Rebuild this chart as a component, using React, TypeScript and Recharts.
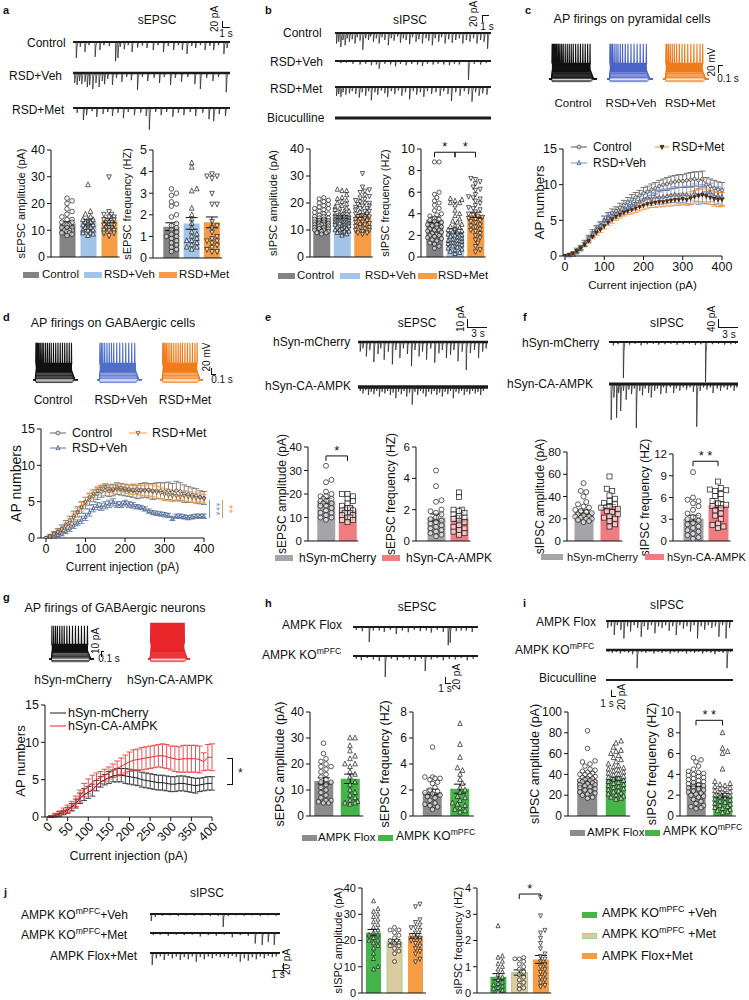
import React from "react";
import { Area, Bar, Cell, ComposedChart, ErrorBar, Line, LineChart, ReferenceLine, Scatter, XAxis, YAxis } from "recharts";

const FONT = '"Liberation Sans", Arial, Helvetica, sans-serif';
const INK = "#111";

// ---------- shared categories ----------
const rsdGroups = ["Control", "RSD+Veh", "RSD+Met"];
const synGroups = ["hSyn-mCherry", "hSyn-CA-AMPK"];
const koGroups = ["AMPK Flox", "AMPK KO"];
const jGroups = ["KO+Veh", "KO+Met", "Flox+Met"];

// ---------- panel a: sEPSC ----------
const aAmpMean = [12.4, 13.2, 13.7];
const aAmpSem = [0.8, 0.9, 0.8];
const aAmpCtrl = [22, 21, 20, 18, 17, 16, 15, 14, 14, 13, 13, 12, 12, 12, 11, 11, 11, 10, 10, 10, 9.5, 9, 9, 8.5, 8];
const aAmpVeh = [27, 17, 16, 15, 14, 14, 14, 13, 13, 13, 12, 12, 12, 11, 11, 11, 10, 10, 10, 9, 9, 8.5, 8];
const aAmpMet = [30, 17, 16, 16, 15, 15, 14, 14, 13, 13, 13, 12, 12, 12, 12, 11, 11, 11, 10, 10, 10, 9, 9, 8];
const aFreqMean = [1.45, 1.6, 1.65];
const aFreqSem = [0.18, 0.27, 0.25];
const aFreqCtrl = [3.2, 3.0, 2.9, 2.6, 2.5, 2.4, 2.0, 1.9, 1.6, 1.5, 1.4, 1.3, 1.2, 1.1, 1.0, 1.0, 0.9, 0.8, 0.7, 0.6, 0.5, 0.4, 0.3];
const aFreqVeh = [4.4, 4.2, 3.2, 3.1, 2.3, 2.0, 1.8, 1.6, 1.4, 1.2, 1.1, 1.0, 0.9, 0.8, 0.8, 0.7, 0.6, 0.5, 0.5, 0.4];
const aFreqMet = [3.9, 3.8, 3.8, 3.7, 3.0, 2.5, 2.5, 1.7, 1.5, 1.4, 1.2, 1.0, 0.9, 0.8, 0.8, 0.7, 0.6, 0.5, 0.4, 0.3, 0.3];

// ---------- panel b: sIPSC ----------
const bAmpMean = [13.8, 14.8, 15.3];
const bAmpSem = [0.4, 0.5, 0.5];
const bAmpCtrl = [22, 21.5, 21, 20.5, 20, 19.5, 19, 18.5, 18, 18, 17.5, 17, 16.5, 16, 16, 15.5, 15, 15, 14.5, 14.5, 14, 14, 13.5, 13.5, 13, 13, 12.5, 12.5, 12, 12, 12, 11.5, 11.5, 11, 11, 10.5, 10.5, 10, 10, 9.5, 9.5, 9, 9, 8.5];
const bAmpVeh = [25, 24.5, 24.5, 23, 22, 21.5, 21, 20.5, 20, 19.5, 19, 18.5, 18, 18, 17.5, 17, 17, 16.5, 16, 16, 15.5, 15.5, 15, 15, 14.5, 14.5, 14, 14, 13.5, 13.5, 13, 13, 12.5, 12.5, 12, 12, 11.5, 11.5, 11, 11, 10.5, 10.5, 10, 10, 9.5, 9.5, 9, 9, 8.5, 8];
const bAmpMet = [31, 26, 25, 24.5, 24, 23, 22.5, 22, 21.5, 21, 20.5, 20, 20, 19.5, 19, 19, 18.5, 18, 18, 17.5, 17, 17, 16.5, 16, 16, 15.5, 15, 15, 14.5, 14, 14, 13.5, 13, 13, 12.5, 12, 12, 11.5, 11, 11, 10.5, 10, 10, 9.5, 9, 9, 8.5];
const bFreqMean = [3.45, 2.4, 3.9];
const bFreqSem = [0.25, 0.2, 0.25];
const bFreqCtrl = [8.8, 8.8, 6.0, 5.8, 5.5, 5.2, 5.0, 4.8, 4.5, 4.3, 4.0, 3.9, 3.8, 3.6, 3.5, 3.4, 3.3, 3.2, 3.0, 3.0, 2.9, 2.8, 2.7, 2.6, 2.5, 2.5, 2.4, 2.3, 2.2, 2.1, 2.0, 2.0, 1.9, 1.8, 1.7, 1.6, 1.5, 1.3, 1.2, 1.0, 0.8];
const bFreqVeh = [5.4, 5.3, 5.2, 5.0, 5.0, 4.8, 4.3, 4.0, 3.8, 3.5, 3.3, 3.2, 3.0, 2.9, 2.8, 2.7, 2.6, 2.5, 2.4, 2.3, 2.2, 2.1, 2.0, 2.0, 1.9, 1.8, 1.7, 1.6, 1.5, 1.5, 1.4, 1.3, 1.2, 1.2, 1.1, 1.0, 0.9, 0.8, 0.7, 0.6, 0.5, 0.4, 0.3];
const bFreqMet = [7.3, 7.2, 7.0, 6.8, 6.5, 6.3, 6.2, 5.8, 5.6, 5.5, 5.4, 5.2, 5.0, 4.8, 4.6, 4.5, 4.4, 4.2, 4.0, 3.9, 3.8, 3.7, 3.6, 3.5, 3.4, 3.3, 3.2, 3.0, 2.9, 2.8, 2.6, 2.5, 2.4, 2.2, 2.0, 1.8, 1.6, 1.3, 1.0, 0.7, 0.5];

// ---------- panel e / f ----------
const eAmpMean = [17, 13.5];
const eAmpSem = [1.2, 0.9];
const eAmpCh = [32, 26, 25, 21, 20, 19, 19, 18, 18, 17, 17, 16, 16, 15, 15, 14, 13, 12, 12, 11, 10, 10, 9];
const eAmpCa = [20, 20, 19, 18, 17, 16, 15, 14, 14, 13, 13, 12, 12, 12, 11, 11, 10, 10, 9, 9, 8];
const eFreqMean = [1.5, 1.45];
const eFreqSem = [0.22, 0.18];
const eFreqCh = [4.5, 3.5, 2.6, 2.5, 2.0, 1.9, 1.8, 1.7, 1.5, 1.4, 1.3, 1.2, 1.1, 1.0, 0.9, 0.8, 0.7, 0.6, 0.5, 0.4, 0.3];
const eFreqCa = [3.1, 2.8, 2.0, 2.0, 1.9, 1.8, 1.7, 1.6, 1.5, 1.4, 1.3, 1.2, 1.0, 0.9, 0.8, 0.7, 0.6, 0.5, 0.4];
const fAmpMean = [26, 30.5];
const fAmpSem = [1.8, 2.3];
const fAmpCh = [52, 45, 44, 40, 35, 33, 31, 30, 28, 27, 26, 25, 24, 23, 22, 22, 21, 20, 20, 19, 18, 17];
const fAmpCa = [58, 47, 45, 41, 38, 36, 34, 33, 31, 30, 29, 27, 26, 24, 22, 21, 20, 18, 15, 13];
const fFreqMean = [3.1, 5.0];
const fFreqSem = [0.45, 0.4];
const fFreqCh = [9.5, 6.0, 5.7, 5.5, 5.2, 4.8, 4.3, 3.8, 3.5, 3.3, 3.0, 2.8, 2.5, 2.3, 2.0, 1.8, 1.5, 1.3, 1.0, 0.8, 0.5, 0.3];
const fFreqCa = [8.2, 7.3, 7.1, 7.0, 6.9, 6.5, 6.2, 5.8, 5.5, 5.2, 5.0, 4.8, 4.5, 4.2, 3.8, 3.5, 3.0, 2.4, 2.2, 2.0, 1.8];

// ---------- panel h / i ----------
const hAmpMean = [13.5, 14.3];
const hAmpSem = [1.2, 1.8];
const hAmpFlox = [28, 24, 22, 21, 20, 19, 19, 18, 17, 16, 15, 14, 13, 13, 12, 11, 10, 9, 8, 7, 6, 6, 5.5, 5, 5];
const hAmpKo = [30, 30, 27, 25, 23, 22, 20, 20, 19, 17, 16, 15, 13, 12, 10, 9, 8, 7, 6, 5.5, 5, 5, 4.5];
const hFreqMean = [1.85, 2.1];
const hFreqSem = [0.22, 0.35];
const hFreqFlox = [5.3, 3.0, 3.0, 2.9, 2.9, 2.8, 2.6, 2.5, 2.2, 2.0, 1.9, 1.8, 1.7, 1.6, 1.5, 1.4, 1.2, 1.0, 0.9, 0.8, 0.7, 0.5];
const hFreqKo = [7.1, 5.5, 4.5, 3.7, 3.5, 3.2, 2.8, 2.5, 2.2, 2.0, 1.8, 1.5, 1.4, 1.2, 1.0, 0.9, 0.8, 0.6, 0.5, 0.4, 0.3];
const iAmpMean = [35, 36];
const iAmpSem = [1.5, 1.6];
const iAmpFlox = [82, 65, 53, 52, 50, 48, 45, 44, 43, 42, 41, 40, 40, 39, 38, 37, 36, 36, 35, 34, 34, 33, 33, 32, 31, 30, 30, 29, 28, 27, 26, 25, 24, 23, 22, 21, 20, 18, 17];
const iAmpKo = [72, 70, 66, 63, 62, 60, 58, 56, 54, 52, 50, 48, 47, 46, 45, 44, 43, 42, 41, 40, 39, 38, 37, 36, 35, 34, 33, 32, 31, 30, 29, 28, 27, 26, 25, 24, 23, 22, 21, 20, 19, 18, 17, 16];
const iFreqMean = [3.0, 1.95];
const iFreqSem = [0.15, 0.2];
const iFreqFlox = [5.6, 5.4, 5.2, 4.8, 4.5, 4.3, 4.2, 4.1, 4.0, 3.9, 3.8, 3.7, 3.6, 3.5, 3.4, 3.3, 3.2, 3.1, 3.0, 2.9, 2.8, 2.7, 2.6, 2.5, 2.4, 2.3, 2.2, 2.1, 2.0, 1.9, 1.8, 1.6, 1.4, 1.2, 1.0, 0.9, 0.8, 0.7];
const iFreqKo = [8.0, 6.5, 6.2, 6.0, 4.5, 3.3, 3.1, 3.0, 2.9, 2.8, 2.7, 2.6, 2.5, 2.4, 2.3, 2.2, 2.1, 2.0, 1.9, 1.8, 1.7, 1.6, 1.5, 1.4, 1.3, 1.2, 1.1, 1.0, 0.9, 0.8, 0.7, 0.6, 0.5, 0.4, 0.3];

// ---------- panel j ----------
const jAmpMean = [23, 19.5, 21.8];
const jAmpSem = [1.2, 0.8, 0.9];
const jAmpKoVeh = [35, 32, 31, 30, 29, 28, 27, 26, 25, 24, 23, 22, 22, 21, 20, 20, 19, 18, 17, 15, 13, 10, 9];
const jAmpKoMet = [25, 24, 24, 23, 22, 21, 20, 20, 19, 19, 18, 18, 17, 16, 15, 12];
const jAmpFloxMet = [34, 33, 28, 27, 26, 25, 25, 24, 23, 22, 22, 21, 21, 20, 20, 19, 18, 17, 16, 15, 13, 12];
const jFreqMean = [0.62, 0.78, 1.28];
const jFreqSem = [0.12, 0.1, 0.15];
const jFreqKoVeh = [2.55, 1.4, 1.35, 1.2, 1.1, 1.0, 0.9, 0.8, 0.7, 0.6, 0.5, 0.4, 0.35, 0.3, 0.25, 0.2, 0.15, 0.1, 0.05];
const jFreqKoMet = [1.35, 1.3, 1.3, 1.2, 1.1, 1.0, 0.9, 0.8, 0.7, 0.6, 0.5, 0.4, 0.3, 0.2, 0.15];
const jFreqFloxMet = [3.65, 2.95, 2.4, 2.3, 2.1, 1.9, 1.7, 1.5, 1.4, 1.3, 1.2, 1.1, 1.0, 0.9, 0.8, 0.7, 0.6, 0.5, 0.4, 0.3, 0.25];

// ---------- AP numbers vs current (c, d, g) ----------
const currentSteps = [0, 10, 20, 30, 40, 50, 60, 70, 80, 90, 100, 110, 120, 130, 140, 150, 160, 170, 180, 190, 200, 210, 220, 230, 240, 250, 260, 270, 280, 290, 300, 310, 320, 330, 340, 350, 360, 370, 380, 390, 400];
const cCtrl = [0, 0, 0.2, 0.8, 1.2, 1.8, 2.5, 3.2, 3.8, 4.3, 5.0, 5.5, 6.0, 6.3, 6.8, 7.1, 7.5, 7.9, 8.2, 8.5, 8.8, 9.0, 9.3, 9.5, 9.8, 10.0, 10.1, 10.3, 10.4, 10.5, 10.5, 10.6, 10.7, 10.8, 10.6, 10.8, 10.0, 9.8, 9.5, 9.3, 9.2];
const cCtrlE = [0, 0.1, 0.2, 0.3, 0.3, 0.4, 0.4, 0.5, 0.5, 0.5, 0.6, 0.6, 0.6, 0.6, 0.6, 0.7, 0.7, 0.7, 0.7, 0.7, 0.8, 0.8, 0.8, 0.8, 0.8, 0.8, 0.9, 0.9, 0.9, 0.9, 0.9, 1.0, 1.0, 1.0, 1.2, 1.1, 1.0, 1.0, 1.1, 1.1, 1.1];
const cVeh = [0, 0, 0.2, 0.5, 1.0, 1.6, 2.3, 3.0, 3.6, 4.2, 5.0, 5.3, 5.6, 5.9, 6.2, 6.5, 6.8, 7.1, 7.3, 7.6, 7.9, 8.2, 8.0, 8.3, 8.2, 8.3, 8.4, 8.5, 8.6, 8.5, 8.6, 8.6, 8.4, 8.9, 8.5, 8.7, 8.6, 8.9, 8.4, 8.5, 8.3];
const cVehE = [0, 0.1, 0.2, 0.2, 0.3, 0.3, 0.4, 0.4, 0.5, 0.5, 0.6, 0.6, 0.6, 0.6, 0.6, 0.7, 0.7, 0.7, 0.8, 0.8, 0.8, 0.9, 0.9, 0.9, 1.0, 1.0, 1.0, 1.0, 1.1, 1.1, 1.1, 1.2, 1.2, 1.2, 1.3, 1.3, 1.3, 1.3, 1.2, 1.2, 1.2];
const cMet = [0, 0.2, 0.4, 0.7, 1.1, 1.6, 2.1, 2.7, 3.3, 3.7, 4.2, 4.7, 5.1, 5.5, 5.8, 6.1, 6.3, 6.5, 6.7, 6.9, 7.1, 7.3, 7.4, 7.5, 7.6, 7.6, 7.7, 7.8, 7.9, 7.9, 8.0, 7.9, 8.1, 8.3, 8.5, 8.6, 8.4, 8.2, 8.0, 7.9, 7.9];
const cMetE = [0, 0.1, 0.2, 0.2, 0.2, 0.3, 0.3, 0.3, 0.4, 0.4, 0.4, 0.4, 0.5, 0.5, 0.5, 0.5, 0.5, 0.6, 0.6, 0.6, 0.6, 0.6, 0.6, 0.7, 0.7, 0.7, 0.7, 0.8, 0.8, 0.8, 0.8, 0.8, 0.9, 0.9, 0.9, 1.0, 1.0, 1.0, 1.0, 1.0, 1.0];
const dCtrl = [0, 0.3, 0.6, 0.9, 1.3, 1.8, 2.4, 3.0, 3.6, 4.2, 4.8, 5.3, 5.8, 6.1, 6.4, 6.6, 6.5, 6.6, 6.8, 6.7, 6.6, 6.5, 6.5, 6.3, 6.5, 6.6, 6.5, 6.4, 6.5, 6.5, 6.4, 6.5, 6.3, 6.5, 6.4, 6.1, 6.0, 5.9, 5.8, 5.6, 5.5];
const dCtrlE = [0, 0.2, 0.3, 0.4, 0.5, 0.6, 0.6, 0.7, 0.7, 0.8, 0.8, 0.8, 0.8, 0.8, 0.8, 0.8, 0.8, 0.8, 0.8, 0.8, 0.8, 0.8, 0.9, 0.9, 1.0, 1.0, 1.0, 1.1, 1.1, 1.1, 1.2, 1.2, 1.2, 1.3, 1.2, 1.2, 1.1, 1.0, 1.0, 0.9, 0.9];
const dVeh = [0, 0.1, 0.2, 0.4, 0.6, 0.9, 1.3, 1.7, 2.1, 2.5, 2.9, 3.5, 4.1, 4.4, 4.3, 4.5, 4.7, 4.9, 4.6, 4.6, 4.8, 4.6, 4.5, 4.3, 4.2, 4.0, 3.7, 3.5, 3.4, 3.3, 3.2, 3.1, 2.7, 3.0, 3.0, 2.9, 2.8, 2.9, 3.0, 3.0, 3.0];
const dVehE = [0, 0.1, 0.2, 0.2, 0.3, 0.3, 0.4, 0.4, 0.4, 0.5, 0.5, 0.5, 0.5, 0.5, 0.5, 0.5, 0.5, 0.5, 0.4, 0.4, 0.4, 0.4, 0.4, 0.3, 0.3, 0.3, 0.3, 0.3, 0.3, 0.3, 0.3, 0.3, 0.3, 0.3, 0.3, 0.3, 0.3, 0.3, 0.3, 0.3, 0.3];
const dMet = [0, 0.2, 0.5, 0.8, 1.2, 1.6, 2.1, 2.8, 3.5, 4.3, 5.0, 5.6, 6.1, 6.5, 6.8, 7.0, 6.8, 6.7, 7.0, 6.9, 6.8, 6.7, 6.6, 6.7, 6.6, 6.5, 6.6, 6.5, 6.3, 6.2, 6.0, 5.9, 5.8, 5.8, 5.7, 5.8, 5.7, 5.6, 5.5, 5.6, 5.4];
const dMetE = [0, 0.2, 0.3, 0.4, 0.5, 0.5, 0.6, 0.6, 0.6, 0.6, 0.6, 0.6, 0.6, 0.6, 0.5, 0.5, 0.5, 0.5, 0.5, 0.5, 0.6, 0.6, 0.6, 0.7, 0.7, 0.7, 0.8, 0.8, 0.8, 0.8, 0.8, 0.8, 0.8, 0.7, 0.7, 0.7, 0.7, 0.7, 0.6, 0.6, 0.6];
const gCh = [0, 0.05, 0.2, 0.4, 0.6, 0.9, 1.3, 1.8, 2.5, 3.0, 3.3, 3.6, 4.2, 4.7, 5.0, 5.3, 5.5, 5.6, 5.6, 5.5, 5.4, 5.3, 5.2, 5.0, 4.9, 4.8, 4.7, 4.6, 4.6, 4.5, 4.4, 4.4, 4.5, 4.5, 4.4, 4.3, 4.2, 4.3, 4.4, 4.5, 4.5];
const gChE = [0, 0.1, 0.2, 0.3, 0.3, 0.4, 0.5, 0.6, 0.7, 0.8, 0.8, 0.8, 0.7, 0.7, 0.7, 0.8, 0.8, 0.9, 0.9, 1.0, 1.0, 1.0, 1.0, 1.0, 1.0, 1.0, 1.0, 1.0, 1.0, 1.0, 1.0, 1.0, 1.0, 1.0, 1.0, 1.0, 1.0, 0.9, 0.9, 0.9, 0.9];
const gCa = [0, 0.1, 0.3, 0.5, 0.8, 1.1, 1.5, 2.1, 2.8, 3.6, 4.1, 4.6, 5.0, 5.3, 5.6, 5.9, 6.2, 6.5, 6.8, 7.1, 7.4, 7.6, 7.7, 7.8, 7.9, 8.0, 8.1, 8.2, 8.2, 8.1, 7.9, 7.8, 7.7, 7.8, 7.8, 7.8, 7.8, 7.7, 7.4, 8.0, 8.0];
const gCaE = [0, 0.1, 0.2, 0.3, 0.4, 0.5, 0.6, 0.7, 0.8, 0.9, 1.0, 1.0, 0.9, 0.8, 0.8, 0.8, 0.9, 1.0, 1.1, 1.2, 1.3, 1.4, 1.4, 1.5, 1.5, 1.5, 1.5, 1.5, 1.6, 1.6, 1.6, 1.7, 1.7, 1.8, 1.8, 1.8, 1.8, 1.8, 1.2, 1.7, 1.8];

// ---------- example traces: [time s, event amplitude pA] ----------
const aTrCtrl = [[0.4, 40], [0.9, 12], [1.5, 25], [2.0, 8], [2.8, 37], [3.4, 20], [3.9, 8], [4.6, 10], [5.4, 48], [5.7, 40], [6.0, 12], [6.5, 18], [7.0, 8], [7.5, 25], [8.2, 14], [8.8, 9], [9.4, 15], [10.2, 20], [10.8, 8], [11.5, 25], [12.1, 10], [12.8, 20], [13.4, 8], [13.9, 20], [14.5, 30], [15.1, 10], [15.6, 15], [16.2, 8], [16.8, 20], [17.4, 10], [17.9, 20], [18.5, 8], [19.2, 30], [19.6, 15]];
const aTrVeh = [[0.2, 25], [0.5, 30], [0.8, 20], [1.1, 28], [1.5, 22], [1.8, 35], [2.1, 30], [2.5, 40], [2.9, 25], [3.3, 35], [3.7, 20], [4.0, 28], [4.4, 15], [5.0, 30], [5.5, 12], [6.2, 22], [6.8, 10], [7.4, 18], [8.2, 42], [8.8, 10], [9.5, 20], [10.3, 12], [11.0, 25], [11.6, 10], [12.4, 30], [13.0, 12], [13.8, 22], [14.6, 10], [15.5, 28], [16.2, 40], [17.0, 12], [17.8, 20], [18.5, 10], [19.5, 48]];
const aTrMet = [[0.5, 12], [1.3, 30], [1.7, 18], [2.4, 8], [3.0, 22], [3.8, 15], [4.4, 10], [5.0, 20], [5.7, 12], [6.4, 25], [7.0, 10], [7.8, 18], [8.6, 12], [9.3, 20], [9.7, 54], [10.5, 10], [11.2, 18], [11.9, 10], [12.7, 22], [13.4, 12], [14.1, 18], [14.9, 10], [15.6, 20], [16.5, 12], [17.3, 28], [17.9, 33], [18.6, 15], [19.4, 20]];
const bTrCtrl = [[0.2, 30], [0.5, 25], [0.8, 40], [1.1, 20], [1.4, 35], [1.7, 15], [2.0, 25], [2.4, 18], [2.8, 30], [3.1, 12], [3.5, 22], [3.9, 48], [4.3, 15], [4.7, 20], [5.0, 10], [5.4, 25], [5.8, 15], [6.2, 30], [6.6, 12], [7.0, 20], [7.5, 35], [7.9, 15], [8.3, 22], [8.8, 10], [9.2, 28], [9.6, 15], [10.0, 20], [10.5, 32], [10.9, 12], [11.4, 25], [11.8, 18], [12.3, 30], [12.8, 15], [13.2, 22], [13.7, 35], [14.1, 15], [14.6, 25], [15.0, 12], [15.5, 30], [16.0, 18], [16.5, 28], [17.0, 20], [17.5, 15], [18.0, 30], [18.5, 20], [19.0, 25], [19.5, 15], [20.0, 30], [20.5, 20], [21.0, 25], [21.5, 45]];
const bTrVeh = [[0.8, 6], [1.6, 5], [2.5, 8], [3.5, 10], [4.3, 8], [5.1, 12], [5.8, 10], [6.2, 22], [7.0, 8], [7.8, 10], [8.5, 15], [9.2, 8], [10.0, 12], [10.8, 8], [11.6, 10], [12.3, 14], [13.0, 8], [13.8, 10], [14.5, 8], [15.3, 10], [16.1, 12], [16.8, 8], [17.5, 10], [18.8, 54], [19.6, 8], [20.5, 10], [21.3, 6]];
const bTrMet = [[0.2, 25], [0.5, 20], [0.8, 28], [1.1, 15], [1.5, 22], [2.0, 18], [2.4, 12], [2.9, 20], [3.4, 30], [3.8, 15], [4.3, 25], [4.7, 12], [5.1, 38], [5.6, 15], [6.0, 22], [6.5, 10], [7.0, 18], [7.4, 28], [7.9, 12], [8.4, 20], [8.9, 10], [9.4, 25], [9.9, 15], [10.5, 35], [11.0, 12], [11.5, 22], [12.0, 15], [12.5, 28], [13.0, 12], [13.6, 20], [14.2, 15], [14.8, 25], [15.3, 12], [15.9, 20], [16.4, 40], [17.0, 15], [17.6, 25], [18.2, 12], [18.8, 20], [19.3, 42], [19.8, 15], [20.3, 25], [20.8, 18], [21.4, 22]];
const bTrBic = [[3.0, 3], [9.0, 3], [15.0, 3]];
const eTrCh = [[0.3, 12], [0.7, 8], [1.2, 18], [1.7, 10], [2.3, 25], [2.9, 15], [3.3, 8], [3.8, 22], [4.4, 12], [5.0, 28], [5.5, 10], [6.1, 20], [6.6, 8], [7.2, 15], [7.8, 30], [8.3, 10], [8.9, 18], [9.4, 12], [10.0, 22], [10.6, 8], [11.2, 26], [11.8, 14], [12.3, 10], [12.9, 20], [13.5, 16], [14.0, 10], [14.6, 24], [15.2, 12], [15.8, 35], [16.4, 14], [17.0, 10], [17.6, 20], [18.2, 12], [18.7, 8]];
const eTrCa = [[0.3, 5], [0.7, 8], [1.1, 4], [1.5, 10], [1.9, 6], [2.3, 9], [2.7, 5], [3.1, 12], [3.5, 6], [3.9, 8], [4.3, 5], [4.7, 10], [5.1, 7], [5.5, 14], [5.9, 6], [6.3, 9], [6.7, 5], [7.1, 12], [7.5, 7], [7.9, 22], [8.3, 6], [8.7, 10], [9.1, 5], [9.5, 8], [9.9, 12], [10.3, 6], [10.7, 9], [11.1, 5], [11.5, 10], [11.9, 7], [12.3, 12], [12.7, 6], [13.1, 9], [13.5, 5], [13.9, 14], [14.3, 6], [14.7, 8], [15.1, 5], [15.5, 10], [15.9, 6], [16.3, 9], [16.7, 5], [17.1, 8], [17.5, 6], [17.9, 10], [18.3, 5]];
const fTrCh = [[0.6, 15], [1.3, 10], [2.1, 160], [3.0, 12], [3.8, 8], [4.7, 15], [5.6, 10], [6.5, 8], [7.3, 12], [8.2, 10], [9.1, 8], [10.0, 12], [10.9, 10], [11.8, 8], [12.7, 14], [13.5, 10], [14.2, 178], [15.2, 10], [16.1, 8], [17.0, 12], [17.9, 10], [18.6, 8]];
const fTrCa = [[0.3, 160], [0.7, 60], [1.1, 150], [1.4, 40], [1.7, 120], [2.1, 30], [2.5, 70], [2.9, 25], [3.3, 45], [3.7, 20], [4.0, 195], [4.5, 30], [4.9, 50], [5.3, 20], [5.8, 40], [6.2, 60], [6.7, 30], [7.1, 20], [7.6, 45], [8.0, 15], [8.4, 40], [9.0, 15], [9.5, 40], [9.9, 20], [10.4, 30], [10.9, 15], [11.4, 25], [11.9, 15], [12.4, 35], [12.9, 190], [13.4, 30], [13.9, 15], [14.4, 25], [14.9, 15], [15.3, 40], [15.9, 20], [16.4, 30], [16.9, 15], [17.4, 25], [17.9, 15], [18.4, 30], [18.8, 15]];
const hTrFlox = [[0.3, 8], [0.9, 12], [1.6, 43], [2.0, 10], [2.6, 10], [3.1, 14], [3.7, 8], [4.3, 20], [4.9, 10], [5.5, 15], [6.1, 8], [6.7, 12], [7.3, 10], [7.8, 16], [8.4, 8], [9.0, 14], [9.5, 52], [9.7, 45], [10.3, 12], [10.8, 10], [11.3, 10], [11.9, 14]];
const hTrKo = [[0.3, 8], [0.8, 12], [1.4, 6], [2.0, 10], [2.6, 14], [3.2, 60], [3.8, 8], [4.4, 12], [5.0, 6], [5.6, 10], [6.2, 14], [6.8, 8], [7.2, 43], [7.8, 10], [8.4, 6], [9.0, 12], [9.6, 8], [10.2, 10], [10.8, 6], [11.4, 12], [12.0, 8]];
const iTrFlox = [[0.3, 20], [1.0, 15], [1.6, 40], [2.2, 12], [2.9, 25], [3.5, 50], [4.2, 15], [4.8, 30], [5.5, 12], [6.2, 20], [6.9, 45], [7.5, 15], [8.2, 25], [8.9, 12], [9.6, 35], [10.3, 15], [11.0, 20], [11.7, 12], [12.4, 28], [13.1, 15], [13.8, 40], [14.5, 12], [15.2, 22], [15.9, 15], [16.6, 30], [17.3, 12], [18.0, 50], [18.7, 15], [19.4, 25], [20.1, 12], [20.8, 20], [21.5, 15], [22.2, 45], [22.9, 12], [23.6, 50], [24.3, 20]];
const iTrKo = [[0.4, 5], [1.2, 8], [2.0, 6], [2.8, 10], [3.6, 5], [4.4, 8], [5.2, 12], [6.1, 52], [7.0, 6], [7.8, 8], [8.6, 5], [9.4, 10], [10.2, 6], [11.0, 8], [11.8, 5], [12.6, 10], [13.4, 6], [14.2, 8], [15.0, 5], [15.8, 10], [16.6, 6], [17.4, 8], [18.2, 5], [19.0, 10], [19.8, 6], [20.6, 8], [21.4, 12], [22.2, 6], [23.0, 8], [23.8, 52], [24.5, 6]];
const iTrBic = [[5.0, 3], [12.0, 3], [19.0, 3]];
const jTrVeh = [[0.1, 20], [0.5, 8], [1.2, 5], [2.0, 4], [2.8, 6], [3.6, 4], [4.4, 5], [5.2, 4], [6.0, 6], [6.8, 5], [7.3, 37], [7.8, 6], [8.6, 4], [9.4, 5], [10.2, 4], [11.0, 6], [11.8, 4], [12.6, 5]];
const jTrMet = [[0.3, 6], [1.0, 5], [1.8, 8], [2.6, 5], [3.4, 6], [4.2, 5], [5.0, 10], [5.8, 6], [6.6, 8], [7.4, 5], [8.2, 12], [9.0, 6], [9.8, 8], [10.5, 30], [11.2, 34], [11.8, 25], [12.4, 34]];
const jTrFlox = [[0.2, 34], [0.6, 15], [1.0, 10], [1.4, 20], [1.8, 8], [2.2, 15], [2.6, 10], [3.0, 20], [3.4, 12], [3.8, 18], [4.2, 10], [4.6, 25], [5.0, 12], [5.4, 18], [5.8, 10], [6.2, 15], [6.6, 8], [7.0, 12], [7.4, 10], [7.8, 15], [8.2, 8], [8.6, 12], [9.0, 25], [9.4, 15], [9.8, 22], [10.2, 12], [10.6, 18], [11.0, 10], [11.4, 15], [11.8, 8], [12.2, 12], [12.6, 10]];

// ---------- AP firing overlays (spike times in s, subthreshold step levels in mV) ----------
const apStepLevels = [-78, -74, -66, -62, -58, -54, -50, -46];
const pyrCtrlSpikes = [0.036, 0.045, 0.058, 0.07, 0.085, 0.1, 0.118, 0.135, 0.155, 0.175, 0.2, 0.225, 0.25, 0.275, 0.3, 0.33, 0.36, 0.39, 0.42, 0.45, 0.48, 0.51];
const pyrVehSpikes = [0.036, 0.05, 0.068, 0.09, 0.115, 0.14, 0.17, 0.2, 0.235, 0.27, 0.31, 0.35, 0.39, 0.43, 0.47, 0.51];
const pyrMetSpikes = [0.036, 0.05, 0.07, 0.092, 0.118, 0.145, 0.175, 0.21, 0.245, 0.28, 0.32, 0.36, 0.4, 0.44, 0.48, 0.515];
const gabaCtrlSpikes = [0.036, 0.05, 0.065, 0.08, 0.1, 0.12, 0.14, 0.165, 0.19, 0.215, 0.24, 0.27, 0.3, 0.33, 0.36, 0.39, 0.42, 0.45, 0.48, 0.51];
const gabaVehSpikes = [0.036, 0.055, 0.075, 0.1, 0.13, 0.16, 0.19, 0.22, 0.26, 0.3, 0.34, 0.38, 0.42, 0.46, 0.5];
const gabaMetSpikes = [0.036, 0.05, 0.068, 0.088, 0.11, 0.135, 0.16, 0.19, 0.22, 0.25, 0.28, 0.31, 0.345, 0.38, 0.415, 0.45, 0.485, 0.515];
const gChSpikes = [0.036, 0.06, 0.085, 0.11, 0.14, 0.17, 0.2, 0.235, 0.27, 0.31, 0.35, 0.39, 0.43, 0.47, 0.51];
const gCaSpikes = [0.036, 0.045, 0.055, 0.065, 0.075, 0.085, 0.095, 0.105, 0.115, 0.125, 0.135, 0.145, 0.16, 0.175, 0.19, 0.205, 0.22, 0.235, 0.25, 0.265, 0.28, 0.295, 0.31, 0.325, 0.34, 0.355, 0.37, 0.385, 0.4, 0.415, 0.43, 0.445, 0.46, 0.475, 0.49, 0.505, 0.515];

// ---------- colours ----------
const C_GRAY = "#838385";
const C_BLUE = "#a2c4e8";
const C_ORANGE = "#f59c45";
const C_GRAY2 = "#a4a4a9";
const C_RED = "#f07c82";
const C_GRAY3 = "#8c8c8c";
const C_GREEN = "#45b549";
const C_BEIGE = "#dccaa0";

type Shape = "circle" | "tri" | "tridown" | "square";

function Marker({ cx, cy, shape, r = 2.3, fill = "#fff", fo = 0.55, stroke = "#1a1a1a", sw = 0.7 }: any) {
  if (cx == null || cy == null) return null;
  const p = { fill, fillOpacity: fo, stroke, strokeWidth: sw };
  if (shape === "circle") return <circle cx={cx} cy={cy} r={r} {...p} />;
  if (shape === "square") return <rect x={cx - r} y={cy - r} width={2 * r} height={2 * r} {...p} />;
  const h = r * 1.1;
  if (shape === "tri") return <polygon points={`${cx},${cy - h - 0.4} ${cx - r},${cy + h * 0.75} ${cx + r},${cy + h * 0.75}`} {...p} />;
  return <polygon points={`${cx},${cy + h + 0.4} ${cx - r},${cy - h * 0.75} ${cx + r},${cy - h * 0.75}`} {...p} />;
}

// beeswarm offsets (px) so the dots spread inside the bar
function swarm(vals: number[], ppu: number, halfW: number, r: number) {
  const idx = vals.map((_, i) => i).sort((a, b) => vals[a] - vals[b]);
  const placed: number[][] = [];
  const out = vals.map(() => 0);
  const step = r * 1.1;
  const cands = [0];
  for (let k = 1; k * step <= halfW; k++) cands.push(k * step, -k * step);
  const d2 = 4 * r * r * 0.85;
  for (const i of idx) {
    const y = vals[i] * ppu;
    let best = 0;
    let bestD = -1;
    for (const c of cands) {
      let m = Infinity;
      for (const q of placed) {
        const dd = (q[0] - c) ** 2 + (q[1] - y) ** 2;
        if (dd < m) m = dd;
      }
      if (m >= d2) { best = c; break; }
      if (m > bestD) { bestD = m; best = c; }
    }
    placed.push([best, y]);
    out[i] = best;
  }
  return out;
}

function DotBars(p: any) {
  const plotH = p.yZero - p.yTop;
  const n = p.groups.length;
  const plotW = p.padL + n * p.pitch;
  const yW = 2 * (p.axisX - p.titleX);
  const mTop = 30;
  const mRight = 4;
  const mBottom = 26;
  const xh = 3;
  const ppu = plotH / p.yMax;
  const r = p.r ?? 2.3;
  const rows = p.groups.map((g: any) => ({ name: g.name, mean: g.mean, sem: g.sem }));
  const scat = p.groups.map((g: any, i: number) => {
    const offs = swarm(g.pts, ppu, p.barW / 2 - r * 0.5, r);
    return g.pts.map((v: number, k: number) => ({ x: i + 0.5 + offs[k] / p.pitch, y: v }));
  });
  const tk = 5 / ppu;
  const refs: any[] = [];
  (p.brackets ?? []).forEach((b: any, k: number) => {
    const x1 = b.from + 0.5;
    const x2 = b.to + 0.5;
    refs.push(<ReferenceLine key={`h${k}`} xAxisId="num" ifOverflow="visible" segment={[{ x: x1, y: b.y }, { x: x2, y: b.y }]} stroke={INK} strokeWidth={1} label={{ value: b.label, position: "top", offset: 1, fontSize: 13, fill: INK }} />);
    refs.push(<ReferenceLine key={`l${k}`} xAxisId="num" ifOverflow="visible" segment={[{ x: x1, y: b.y }, { x: x1, y: b.y - tk }]} stroke={INK} strokeWidth={1} />);
    refs.push(<ReferenceLine key={`r${k}`} xAxisId="num" ifOverflow="visible" segment={[{ x: x2, y: b.y }, { x: x2, y: b.y - tk }]} stroke={INK} strokeWidth={1} />);
  });
  return (
    <div style={{ position: "absolute", left: p.axisX - yW, top: p.yTop - mTop }}>
      <ComposedChart width={yW + plotW + mRight} height={mTop + plotH + xh + mBottom} data={rows} margin={{ top: mTop, right: mRight, bottom: mBottom, left: 0 }}>
        <XAxis xAxisId="cat" dataKey="name" type="category" padding={{ left: p.padL, right: 0 }} tick={false} tickLine={false} axisLine={{ stroke: INK }} height={xh} />
        <XAxis xAxisId="num" dataKey="x" type="number" domain={[0, n]} padding={{ left: p.padL, right: 0 }} hide allowDataOverflow />
        <YAxis width={yW} type="number" domain={[0, p.yMax]} ticks={p.ticks} interval={0} allowDataOverflow tickSize={4} tickMargin={2} axisLine={{ stroke: INK }} tickLine={{ stroke: INK }} tick={{ fontSize: p.tickFs, fill: INK }} label={{ value: p.title, angle: -90, position: "center", fontSize: p.titleFs, fill: INK }} />
        <Bar xAxisId="cat" dataKey="mean" barSize={p.barW} isAnimationActive={false}>
          {p.groups.map((g: any) => <Cell key={g.name} fill={g.color} stroke={g.stroke ?? "none"} strokeWidth={1} />)}
          <ErrorBar dataKey="sem" width={6} stroke={INK} strokeWidth={1} direction="y" />
        </Bar>
        {p.groups.map((g: any, i: number) => (
          <Scatter key={g.name} xAxisId="num" data={scat[i]} dataKey="y" isAnimationActive={false} shape={(s: any) => <Marker cx={s.cx} cy={s.cy} shape={g.shape} r={r} />} />
        ))}
        {refs}
      </ComposedChart>
    </div>
  );
}

function CurveChart(p: any) {
  const yW = 2 * (p.axisX - p.yTitleX);
  const mTop = 6;
  const mRight = 16;
  const mBottom = 8;
  const plotW = p.x400 - p.axisX;
  const rows = currentSteps.map((x, i) => {
    const row: any = { x };
    p.series.forEach((s: any) => {
      row[s.key] = s.vals[i];
      row[s.key + "E"] = s.errs[i];
    });
    return row;
  });
  const tick = p.rot ? { angle: -45, textAnchor: "end", fontSize: p.tickFs, fill: INK } : { fontSize: p.tickFs, fill: INK };
  return (
    <div style={{ position: "absolute", left: p.axisX - yW, top: p.yTop - mTop }}>
      <LineChart width={yW + plotW + mRight} height={mTop + (p.yZero - p.yTop) + p.xh + mBottom} data={rows} margin={{ top: mTop, right: mRight, bottom: mBottom, left: 0 }}>
        <XAxis dataKey="x" type="number" domain={[0, 400]} ticks={p.xTicks} interval={0} padding={{ left: p.x0 - p.axisX, right: 0 }} height={p.xh} tickSize={4} tickMargin={p.rot ? 0 : 2} axisLine={{ stroke: INK }} tickLine={{ stroke: INK }} tick={tick} label={{ value: "Current injection (pA)", position: "insideBottom", offset: 0, fontSize: p.xTitleFs, fill: INK }} />
        <YAxis type="number" domain={[0, 15]} ticks={[0, 5, 10, 15]} interval={0} allowDataOverflow width={yW} tickSize={4} tickMargin={2} axisLine={{ stroke: INK }} tickLine={{ stroke: INK }} tick={{ fontSize: p.tickFs, fill: INK }} label={{ value: "AP numbers", angle: -90, position: "center", fontSize: p.yTitleFs, fill: INK }} />
        {p.series.map((s: any) => (
          <Line key={s.key} dataKey={s.key} stroke={s.color} strokeWidth={1} type="linear" isAnimationActive={false}
            dot={s.dot ? (d: any) => <Marker key={`${s.key}${d.index}`} cx={d.cx} cy={d.cy} shape={s.dot} r={1.7} fill={s.dotFill} fo={1} stroke={s.dotStroke} sw={0.6} /> : false}>
            <ErrorBar dataKey={s.key + "E"} width={3} stroke={s.color} strokeWidth={0.8} direction="y" />
          </Line>
        ))}
      </LineChart>
    </div>
  );
}

// voltage-clamp example trace; events drawn as downward deflections from baseline
function Trace({ x, y, w, dur, scale, depth, events, base = 2, color = "#1c1c1c" }: any) {
  const up = 3;
  const h = depth * scale + up;
  const sorted = [...events].sort((a: any, b: any) => a[0] - b[0]);
  const data: any[] = [{ t: 0, v: 0 }];
  sorted.forEach((e: any) => {
    data.push({ t: e[0], v: 0 }, { t: e[0] + 0.02, v: -e[1] }, { t: e[0] + dur * 0.006, v: -e[1] * 0.25 }, { t: e[0] + dur * 0.012, v: 0 });
  });
  data.push({ t: dur, v: 0 });
  return (
    <div style={{ position: "absolute", left: x, top: y - up }}>
      <LineChart width={w} height={h} data={data} margin={{ top: 0, right: 0, bottom: 0, left: 0 }}>
        <XAxis dataKey="t" type="number" domain={[0, dur]} hide allowDataOverflow />
        <YAxis type="number" domain={[-depth, up / scale]} hide allowDataOverflow />
        <ReferenceLine y={0} stroke={color} strokeWidth={base} />
        <Line dataKey="v" stroke={color} strokeWidth={0.7} dot={false} type="linear" isAnimationActive={false} />
      </LineChart>
    </div>
  );
}

// current-clamp overlay of step responses
function ApBlock({ x, y, w, h, color, spikes, light = 0.4 }: any) {
  const base = -70;
  const plat = -40;
  const fill = [{ t: 0, r: [base, base] }, { t: 0.03, r: [base, base] }, { t: 0.036, r: [base, plat] }, { t: 0.52, r: [base, plat] }, { t: 0.56, r: [base, base] }, { t: 0.6, r: [base, base] }];
  const band = [{ t: 0.036, r: [-50, -22] }, { t: 0.52, r: [-50, -22] }];
  const steps = apStepLevels.map((lv) => [{ t: 0, v: base }, { t: 0.03, v: base }, { t: 0.04, v: lv }, { t: 0.52, v: lv }, { t: 0.56, v: base }, { t: 0.6, v: base }]);
  const sp: any[] = [{ t: 0.036, v: -24 }];
  spikes.forEach((t: number) => sp.push({ t, v: -24 }, { t: t + 0.003, v: 34 }, { t: t + 0.006, v: -26 }));
  sp.push({ t: 0.52, v: -24 });
  return (
    <div style={{ position: "absolute", left: x, top: y }}>
      <ComposedChart width={w} height={h} margin={{ top: 0, right: 0, bottom: 0, left: 0 }}>
        <XAxis dataKey="t" type="number" domain={[0, 0.6]} hide allowDataOverflow />
        <YAxis type="number" domain={[-82, 36]} hide allowDataOverflow />
        <Area data={fill} dataKey="r" type="linear" stroke="none" fill={color} fillOpacity={light} isAnimationActive={false} />
        {steps.map((d, i) => <Line key={i} data={d} dataKey="v" type="linear" stroke={color} strokeWidth={0.8} dot={false} isAnimationActive={false} />)}
        <Area data={band} dataKey="r" type="linear" stroke="none" fill={color} fillOpacity={1} isAnimationActive={false} />
        <Line data={sp} dataKey="v" type="linear" stroke={color} strokeWidth={1.1} dot={false} isAnimationActive={false} />
      </ComposedChart>
    </div>
  );
}

function T({ x, y, s = 12, a = "l", b = false, r = 0, c = INK, children }: any) {
  const tx = a === "l" ? "0" : a === "c" ? "-50%" : "-100%";
  return (
    <div style={{ position: "absolute", left: x, top: y, transform: `translate(${tx}, -50%) rotate(${r}deg)`, fontSize: s, fontWeight: b ? 700 : 400, color: c, whiteSpace: "nowrap", lineHeight: 1 }}>
      {children}
    </div>
  );
}

function VL({ x, y1, y2, c = INK, w = 1 }: any) {
  return <div style={{ position: "absolute", left: x, top: y1, width: w, height: y2 - y1, background: c }} />;
}
function HL({ x1, x2, y, c = INK, w = 1 }: any) {
  return <div style={{ position: "absolute", left: x1, top: y, width: x2 - x1, height: w, background: c }} />;
}
function Sw({ x, y, w, color, stroke, h = 6 }: any) {
  return <div style={{ position: "absolute", left: x, top: y - h / 2, width: w, height: h, background: color, boxSizing: "border-box", border: stroke ? `1px solid ${stroke}` : "none" }} />;
}
function LineKey({ x, y, color, dot, dotFill, dotStroke, w = 16 }: any) {
  return (
    <svg style={{ position: "absolute", left: x, top: y - 4 }} width={w} height={8}>
      <line x1={0} y1={4} x2={w} y2={4} stroke={color} strokeWidth={1} />
      {dot ? <Marker cx={w / 2} cy={4} shape={dot} r={2} fill={dotFill} fo={1} stroke={dotStroke} sw={0.6} /> : null}
    </svg>
  );
}

const KO = () => <span>AMPK KO<sup style={{ fontSize: "0.72em", verticalAlign: "0.55em", lineHeight: 0 }}>mPFC</sup></span>;

function grp(names: string[], colors: string[], means: number[], sems: number[], pts: number[][], shapes: Shape[], strokes?: (string | undefined)[]) {
  return names.map((name, i) => ({ name, color: colors[i], mean: means[i], sem: sems[i], pts: pts[i], shape: shapes[i], stroke: strokes ? strokes[i] : undefined }));
}

export default function App() {
  const rsdCol = [C_GRAY, C_BLUE, C_ORANGE];
  const rsdShp: Shape[] = ["circle", "tri", "tridown"];
  const synCol = [C_GRAY2, C_RED];
  const synShp: Shape[] = ["circle", "square"];
  const koCol = [C_GRAY3, C_GREEN];
  const koShp: Shape[] = ["circle", "tri"];
  const jCol = [C_GREEN, C_BEIGE, C_ORANGE];
  const jShp: Shape[] = ["tri", "circle", "tridown"];
  const jStroke = [undefined, "#9fd08c", undefined];

  const cSeries = [
    { key: "ctrl", vals: cCtrl, errs: cCtrlE, color: "#555", dot: "circle", dotFill: "#cfcfcf", dotStroke: "#333" },
    { key: "veh", vals: cVeh, errs: cVehE, color: "#6f8fd8", dot: "tri", dotFill: "#a9c9f0", dotStroke: "#26365e" },
    { key: "met", vals: cMet, errs: cMetE, color: "#f08a2a", dot: "tridown", dotFill: "#4a3420", dotStroke: "#2a1a0a" },
  ];
  const dSeries = [
    { key: "ctrl", vals: dCtrl, errs: dCtrlE, color: "#666", dot: "circle", dotFill: "#d8d8d8", dotStroke: "#333" },
    { key: "veh", vals: dVeh, errs: dVehE, color: "#5474a8", dot: "tri", dotFill: "#b8cdea", dotStroke: "#2a3a5e" },
    { key: "met", vals: dMet, errs: dMetE, color: "#f29a48", dot: "tridown", dotFill: "#f3d2a8", dotStroke: "#4a3420" },
  ];
  const gSeries = [
    { key: "ch", vals: gCh, errs: gChE, color: "#1a1a1a" },
    { key: "ca", vals: gCa, errs: gCaE, color: "#e8262a" },
  ];

  return (
    <div style={{ position: "absolute", left: 0, top: 0, width: 749, height: 1000, background: "#fff", fontFamily: FONT, color: INK, overflow: "hidden" }}>
      {/* ---------------- a ---------------- */}
      <T x={3} y={10} s={11} b>a</T>
      <T x={157} y={20} s={12} a="c">sEPSC</T>
      <T x={215} y={19} s={10} a="c" r={-90}>20 pA</T>
      <VL x={222} y1={21} y2={28} />
      <HL x1={222} x2={230} y={27} />
      <T x={226} y={34} s={10} a="c">1 s</T>
      <T x={27} y={43} s={12}>Control</T>
      <T x={9} y={76} s={12}>RSD+Veh</T>
      <T x={12} y={110} s={12}>RSD+Met</T>
      <Trace x={73} y={42} w={157} dur={20} scale={0.4} depth={55} events={aTrCtrl} />
      <Trace x={73} y={73} w={157} dur={20} scale={0.4} depth={55} events={aTrVeh} base={2.6} />
      <Trace x={73} y={108} w={157} dur={20} scale={0.4} depth={55} events={aTrMet} />
      <DotBars axisX={51} yTop={150} yZero={257} yMax={40} ticks={[0, 10, 20, 30, 40]} pitch={21} padL={5.5} barW={16} titleX={21} tickFs={12.5} titleFs={11}
        title="sEPSC amplitude (pA)" groups={grp(rsdGroups, rsdCol, aAmpMean, aAmpSem, [aAmpCtrl, aAmpVeh, aAmpMet], rsdShp)} />
      <DotBars axisX={153} yTop={150} yZero={258} yMax={5} ticks={[0, 1, 2, 3, 4, 5]} pitch={20.3} padL={8.3} barW={16} titleX={127} tickFs={12.5} titleFs={11}
        title="sEPSC frequency (HZ)" groups={grp(rsdGroups, rsdCol, aFreqMean, aFreqSem, [aFreqCtrl, aFreqVeh, aFreqMet], rsdShp)} />
      <Sw x={23} y={275} w={16} color={C_GRAY} />
      <T x={42} y={275} s={11.5}>Control</T>
      <Sw x={84} y={275} w={18} color={C_BLUE} />
      <T x={104} y={275} s={11.5}>RSD+Veh</T>
      <Sw x={159} y={275} w={18} color={C_ORANGE} />
      <T x={179} y={275} s={11.5}>RSD+Met</T>

      {/* ---------------- b ---------------- */}
      <T x={265} y={10} s={11} b>b</T>
      <T x={410} y={20} s={12} a="c">sIPSC</T>
      <T x={474} y={14} s={10} a="c" r={-90}>20 pA</T>
      <VL x={482} y1={15} y2={22} />
      <HL x1={482} x2={489} y={15} />
      <T x={487} y={27} s={10} a="c">1 s</T>
      <T x={283} y={33} s={12}>Control</T>
      <T x={270} y={62} s={12}>RSD+Veh</T>
      <T x={270} y={89} s={12}>RSD+Met</T>
      <T x={267} y={118} s={12}>Bicuculline</T>
      <Trace x={335} y={33} w={156} dur={22} scale={0.35} depth={60} events={bTrCtrl} />
      <Trace x={335} y={61} w={156} dur={22} scale={0.35} depth={60} events={bTrVeh} />
      <Trace x={335} y={87} w={156} dur={22} scale={0.35} depth={60} events={bTrMet} />
      <Trace x={335} y={118} w={156} dur={22} scale={0.35} depth={20} events={bTrBic} base={3.2} />
      <DotBars axisX={310} yTop={149} yZero={257} yMax={40} ticks={[0, 10, 20, 30, 40]} pitch={20.5} padL={1.25} barW={17} titleX={273} tickFs={12.5} titleFs={11} r={2.1}
        title="sIPSC amplitude (pA)" groups={grp(rsdGroups, rsdCol, bAmpMean, bAmpSem, [bAmpCtrl, bAmpVeh, bAmpMet], rsdShp)} />
      <DotBars axisX={421} yTop={149} yZero={257} yMax={10} ticks={[0, 2, 4, 6, 8, 10]} pitch={20.5} padL={3.25} barW={17} titleX={385} tickFs={12.5} titleFs={11} r={2.1}
        title="sIPSC frequency (HZ)" groups={grp(rsdGroups, rsdCol, bFreqMean, bFreqSem, [bFreqCtrl, bFreqVeh, bFreqMet], rsdShp)}
        brackets={[{ from: 0, to: 1, y: 9.7, label: "*" }, { from: 1, to: 2, y: 9.7, label: "*" }]} />
      <Sw x={278} y={276} w={17} color={C_GRAY} />
      <T x={297} y={276} s={11.5}>Control</T>
      <Sw x={340} y={276} w={20} color={C_BLUE} />
      <T x={365} y={276} s={11.5}>RSD+Veh</T>
      <Sw x={418} y={276} w={19} color={C_ORANGE} />
      <T x={438} y={276} s={11.5}>RSD+Met</T>

      {/* ---------------- c ---------------- */}
      <T x={525} y={10} s={11} b>c</T>
      <T x={632} y={19} s={12.5} a="c">AP firings on pyramidal cells</T>
      <ApBlock x={549} y={43} w={48} h={40} color="#111" spikes={pyrCtrlSpikes} light={0.75} />
      <ApBlock x={607} y={43} w={46} h={40} color="#4a63c9" spikes={pyrVehSpikes} />
      <ApBlock x={663} y={43} w={46} h={40} color="#f07b1a" spikes={pyrMetSpikes} />
      <T x={712} y={62} s={10} a="c" r={-90}>20 mV</T>
      <VL x={718} y1={65} y2={73} />
      <HL x1={718} x2={723} y={65} />
      <T x={728} y={79} s={10} a="c">0.1 s</T>
      <T x={573} y={104} s={11.5} a="c">Control</T>
      <T x={631} y={104} s={11.5} a="c">RSD+Veh</T>
      <T x={690} y={104} s={11.5} a="c">RSD+Met</T>
      <CurveChart axisX={563} yTop={149} yZero={256} x0={565} x400={722} yTitleX={539} xh={33} xTicks={[0, 100, 200, 300, 400]} tickFs={12.5} yTitleFs={13.5} xTitleFs={11.5} series={cSeries} />
      <LineKey x={571} y={147} color="#555" dot="circle" dotFill="#cfcfcf" dotStroke="#333" />
      <T x={593} y={147} s={12}>Control</T>
      <LineKey x={655} y={147} color="#f08a2a" dot="tridown" dotFill="#4a3420" dotStroke="#2a1a0a" w={14} />
      <T x={672} y={147} s={12}>RSD+Met</T>
      <LineKey x={571} y={163} color="#6f8fd8" dot="tri" dotFill="#a9c9f0" dotStroke="#26365e" />
      <T x={593} y={163} s={12}>RSD+Veh</T>

      {/* ---------------- d ---------------- */}
      <T x={3} y={317} s={11} b>d</T>
      <T x={113} y={323} s={12.5} a="c">AP firings on GABAergic cells</T>
      <ApBlock x={33} y={342} w={45} h={42} color="#111" spikes={gabaCtrlSpikes} light={0.55} />
      <ApBlock x={97} y={342} w={45} h={42} color="#4f6fc8" spikes={gabaVehSpikes} />
      <ApBlock x={160} y={342} w={43} h={42} color="#f07b1a" spikes={gabaMetSpikes} />
      <T x={207} y={357} s={10} a="c" r={-90}>20 mV</T>
      <VL x={211} y1={368} y2={375} />
      <HL x1={211} x2={216} y={374} />
      <T x={222} y={380} s={10} a="c">0.1 s</T>
      <T x={53} y={400} s={12} a="c">Control</T>
      <T x={121} y={400} s={12} a="c">RSD+Veh</T>
      <T x={185} y={400} s={12} a="c">RSD+Met</T>
      <CurveChart axisX={41} yTop={429} yZero={538} x0={46} x400={204} yTitleX={16} xh={33} xTicks={[0, 100, 200, 300, 400]} tickFs={12.5} yTitleFs={14} xTitleFs={12} series={dSeries} />
      <LineKey x={50} y={433} color="#666" dot="circle" dotFill="#d8d8d8" dotStroke="#333" />
      <T x={72} y={433} s={12.5}>Control</T>
      <LineKey x={129} y={433} color="#f29a48" dot="tridown" dotFill="#f3d2a8" dotStroke="#4a3420" w={18} />
      <T x={152} y={433} s={12.5}>RSD+Met</T>
      <LineKey x={50} y={448} color="#5474a8" dot="tri" dotFill="#b8cdea" dotStroke="#2a3a5e" />
      <T x={72} y={448} s={12.5}>RSD+Veh</T>
      <VL x={209} y1={500} y2={518} c="#6f9be0" />
      <T x={215} y={509} s={11} a="c" r={90} c="#6f9be0">***</T>
      <VL x={222} y1={500} y2={518} c="#f29a48" />
      <T x={228} y={509} s={11} a="c" r={90} c="#f29a48">**</T>

      {/* ---------------- e ---------------- */}
      <T x={265} y={317} s={11} b>e</T>
      <T x={417} y={323} s={12} a="c">sEPSC</T>
      <T x={461} y={319} s={10} a="c" r={-90}>10 pA</T>
      <VL x={467} y1={319} y2={328} />
      <HL x1={467} x2={487} y={327} />
      <T x={478} y={334} s={10} a="c">3 s</T>
      <T x={273} y={342} s={12}>hSyn-mCherry</T>
      <T x={265} y={386} s={12}>hSyn-CA-AMPK</T>
      <Trace x={358} y={342} w={130} dur={19} scale={0.8} depth={38} events={eTrCh} base={2.6} />
      <Trace x={358} y={387} w={130} dur={19} scale={0.8} depth={30} events={eTrCa} base={3.6} />
      <DotBars axisX={308} yTop={447} yZero={541} yMax={40} ticks={[0, 10, 20, 30, 40]} pitch={21.5} padL={7.25} barW={18} titleX={282} tickFs={11.5} titleFs={12} r={2.5}
        title="sEPSC amplitude (pA)" groups={grp(synGroups, synCol, eAmpMean, eAmpSem, [eAmpCh, eAmpCa], synShp)}
        brackets={[{ from: 0, to: 1, y: 36.2, label: "*" }]} />
      <DotBars axisX={416} yTop={447} yZero={541} yMax={6} ticks={[0, 2, 4, 6]} pitch={23} padL={8.5} barW={18} titleX={391} tickFs={11.5} titleFs={12} r={2.5}
        title="sEPSC frequency (HZ)" groups={grp(synGroups, synCol, eFreqMean, eFreqSem, [eFreqCh, eFreqCa], synShp)} />
      <Sw x={275} y={558} w={18} color={C_GRAY2} />
      <T x={299} y={558} s={12}>hSyn-mCherry</T>
      <Sw x={382} y={558} w={18} color={C_RED} />
      <T x={406} y={558} s={12}>hSyn-CA-AMPK</T>

      {/* ---------------- f ---------------- */}
      <T x={523} y={317} s={11} b>f</T>
      <T x={667} y={323} s={12} a="c">sIPSC</T>
      <T x={712} y={319} s={10} a="c" r={-90}>40 pA</T>
      <VL x={718} y1={319} y2={328} />
      <HL x1={718} x2={738} y={327} />
      <T x={729} y={335} s={10} a="c">3 s</T>
      <T x={522} y={343} s={12}>hSyn-mCherry</T>
      <T x={507} y={384} s={12}>hSyn-CA-AMPK</T>
      <Trace x={609} y={342} w={129} dur={19} scale={0.225} depth={200} events={fTrCh} />
      <Trace x={609} y={384} w={129} dur={19} scale={0.225} depth={210} events={fTrCa} base={3} />
      <DotBars axisX={567} yTop={452} yZero={541} yMax={80} ticks={[0, 20, 40, 60, 80]} pitch={26} padL={3.5} barW={19} titleX={540} tickFs={11.5} titleFs={12} r={2.5}
        title="sIPSC amplitude (pA)" groups={grp(synGroups, synCol, fAmpMean, fAmpSem, [fAmpCh, fAmpCa], synShp)} />
      <DotBars axisX={673} yTop={454} yZero={541} yMax={12} ticks={[0, 3, 6, 9, 12]} pitch={25} padL={7.5} barW={20} titleX={645} tickFs={11.5} titleFs={12} r={2.5}
        title="sIPSC frequency (HZ)" groups={grp(synGroups, synCol, fFreqMean, fFreqSem, [fFreqCh, fFreqCa], synShp)}
        brackets={[{ from: 0, to: 1, y: 11, label: "* *" }]} />
      <Sw x={541} y={557} w={22} color={C_GRAY2} />
      <T x={567} y={557} s={11}>hSyn-mCherry</T>
      <Sw x={645} y={557} w={19} color={C_RED} />
      <T x={667} y={557} s={11}>hSyn-CA-AMPK</T>

      {/* ---------------- g ---------------- */}
      <T x={3} y={597} s={11} b>g</T>
      <T x={115} y={608} s={12.5} a="c">AP firings of GABAergic neurons</T>
      <ApBlock x={49} y={625} w={45} h={38} color="#111" spikes={gChSpikes} light={0.35} />
      <ApBlock x={148} y={622} w={42} h={41} color="#e8262a" spikes={gCaSpikes} light={0.8} />
      <T x={96} y={641} s={10} a="c" r={-90}>10 pA</T>
      <VL x={101} y1={651} y2={657} />
      <HL x1={101} x2={104} y={651} />
      <T x={109} y={659} s={10} a="c">0.1 s</T>
      <T x={73} y={680} s={12} a="c">hSyn-mCherry</T>
      <T x={170} y={680} s={12} a="c">hSyn-CA-AMPK</T>
      <CurveChart axisX={45} yTop={705} yZero={817} x0={47} x400={212} yTitleX={20} xh={43} rot xTicks={[0, 50, 100, 150, 200, 250, 300, 350, 400]} tickFs={12.5} yTitleFs={13} xTitleFs={12.5} series={gSeries} />
      <LineKey x={50} y={713} color="#1a1a1a" />
      <T x={68} y={713} s={12.5}>hSyn-mCherry</T>
      <LineKey x={50} y={726} color="#e8262a" />
      <T x={68} y={726} s={12.5}>hSyn-CA-AMPK</T>
      <VL x={232} y1={758} y2={785} />
      <HL x1={227} x2={233} y={758} />
      <HL x1={227} x2={233} y={784} />
      <T x={238} y={773} s={12}>*</T>

      {/* ---------------- h ---------------- */}
      <T x={265} y={603} s={11} b>h</T>
      <T x={417} y={607} s={12} a="c">sEPSC</T>
      <T x={282} y={625} s={12}>AMPK Flox</T>
      <T x={262} y={655} s={12}><KO /></T>
      <Trace x={353} y={627} w={125} dur={12.5} scale={0.35} depth={62} events={hTrFlox} />
      <Trace x={353} y={656} w={125} dur={12.5} scale={0.35} depth={62} events={hTrKo} />
      <VL x={445} y1={677} y2={684} />
      <HL x1={445} x2={451} y={683} />
      <T x={445} y={689} s={10} a="c">1 s</T>
      <T x={457} y={677} s={10} a="c" r={-90}>20 pA</T>
      <DotBars axisX={310} yTop={712} yZero={816} yMax={40} ticks={[0, 10, 20, 30, 40]} pitch={26.5} padL={0.25} barW={19} titleX={280} tickFs={12} titleFs={12.5}
        title="sEPSC amplitude (pA)" groups={grp(koGroups, koCol, hAmpMean, hAmpSem, [hAmpFlox, hAmpKo], koShp)} />
      <DotBars axisX={413} yTop={712} yZero={816} yMax={8} ticks={[0, 2, 4, 6, 8]} pitch={27.5} padL={5.75} barW={19} titleX={385} tickFs={12} titleFs={12.5}
        title="sEPSC frequency (HZ)" groups={grp(koGroups, koCol, hFreqMean, hFreqSem, [hFreqFlox, hFreqKo], koShp)} />
      <Sw x={302} y={838} w={15} color={C_GRAY3} />
      <T x={318} y={838} s={11.5}>AMPK Flox</T>
      <Sw x={378} y={838} w={15} color={C_GREEN} />
      <T x={396} y={836} s={12}><KO /></T>

      {/* ---------------- i ---------------- */}
      <T x={523} y={603} s={11} b>i</T>
      <T x={667} y={605} s={12} a="c">sIPSC</T>
      <T x={536} y={622} s={12}>AMPK Flox</T>
      <T x={515} y={650} s={12}><KO /></T>
      <T x={539} y={678} s={12}>Bicuculline</T>
      <Trace x={606} y={621} w={127} dur={25} scale={0.35} depth={60} events={iTrFlox} />
      <Trace x={606} y={650} w={127} dur={25} scale={0.35} depth={60} events={iTrKo} base={2.4} />
      <Trace x={606} y={680} w={127} dur={25} scale={0.35} depth={20} events={iTrBic} base={1.8} />
      <VL x={611} y1={690} y2={697} />
      <HL x1={611} x2={616} y={696} />
      <T x={607} y={704} s={10} a="c">1 s</T>
      <T x={622} y={697} s={10} a="c" r={-90}>20 pA</T>
      <DotBars axisX={568} yTop={712} yZero={816} yMax={100} ticks={[0, 20, 40, 60, 80, 100]} pitch={28.5} padL={5.25} barW={20} titleX={535} tickFs={12} titleFs={12.5}
        title="sIPSC amplitude (pA)" groups={grp(koGroups, koCol, iAmpMean, iAmpSem, [iAmpFlox, iAmpKo], koShp)} />
      <DotBars axisX={680} yTop={712} yZero={816} yMax={10} ticks={[0, 2, 4, 6, 8, 10]} pitch={26.5} padL={2.75} barW={19} titleX={652} tickFs={12} titleFs={12.5}
        title="sIPSC frequency (HZ)" groups={grp(koGroups, koCol, iFreqMean, iFreqSem, [iFreqFlox, iFreqKo], koShp)}
        brackets={[{ from: 0, to: 1, y: 9.2, label: "* *" }]} />
      <Sw x={570} y={833} w={15} color={C_GRAY3} />
      <T x={587} y={833} s={11.5}>AMPK Flox</T>
      <Sw x={645} y={833} w={15} color={C_GREEN} />
      <T x={663} y={831} s={12}><KO /></T>

      {/* ---------------- j ---------------- */}
      <T x={4} y={892} s={11} b>j</T>
      <T x={207} y={893} s={12} a="c">sIPSC</T>
      <T x={21} y={915} s={12}><KO />+Veh</T>
      <T x={21} y={935} s={12}><KO />+Met</T>
      <T x={50} y={956} s={12}>AMPK Flox+Met</T>
      <Trace x={150} y={914} w={130} dur={13} scale={0.35} depth={40} events={jTrVeh} />
      <Trace x={150} y={933} w={130} dur={13} scale={0.35} depth={40} events={jTrMet} />
      <Trace x={150} y={953} w={130} dur={13} scale={0.35} depth={40} events={jTrFlox} />
      <VL x={283} y1={963} y2={971} />
      <HL x1={273} x2={284} y={970} />
      <T x={278} y={975} s={10} a="c">1 s</T>
      <T x={287} y={962} s={10} a="c" r={-90}>20 pA</T>
      <DotBars axisX={362} yTop={888} yZero={993} yMax={40} ticks={[0, 10, 20, 30, 40]} pitch={21} padL={1} barW={15} titleX={338} tickFs={11} titleFs={11} r={2}
        title="sISPC amplitude (pA)" groups={grp(jGroups, jCol, jAmpMean, jAmpSem, [jAmpKoVeh, jAmpKoMet, jAmpFloxMet], jShp, jStroke)} />
      <DotBars axisX={477} yTop={888} yZero={993} yMax={4} ticks={[0, 1, 2, 3, 4]} pitch={21.25} padL={10.4} barW={16} titleX={458} tickFs={11} titleFs={11} r={2}
        title="sIPSC frequency (HZ)" groups={grp(jGroups, jCol, jFreqMean, jFreqSem, [jFreqKoVeh, jFreqKoMet, jFreqFloxMet], jShp, jStroke)}
        brackets={[{ from: 1, to: 2, y: 3.77, label: "*" }]} />
      <Sw x={582} y={915} w={15} color={C_GREEN} />
      <T x={602} y={913} s={12.5}><KO /> +Veh</T>
      <Sw x={582} y={936} w={15} color={C_BEIGE} stroke="#9fd08c" />
      <T x={602} y={934} s={12.5}><KO /> +Met</T>
      <Sw x={582} y={956} w={15} color={C_ORANGE} />
      <T x={602} y={956} s={12.5}>AMPK Flox+Met</T>
    </div>
  );
}
